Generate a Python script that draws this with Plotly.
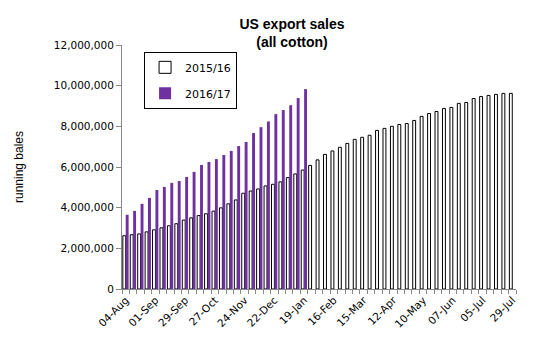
import plotly.graph_objects as go

weeks = ["04-Aug", "11-Aug", "18-Aug", "25-Aug", "01-Sep", "08-Sep", "15-Sep", "22-Sep",
         "29-Sep", "06-Oct", "13-Oct", "20-Oct", "27-Oct", "03-Nov", "10-Nov", "17-Nov",
         "24-Nov", "01-Dec", "08-Dec", "15-Dec", "22-Dec", "29-Dec", "05-Jan", "12-Jan",
         "19-Jan", "26-Jan", "02-Feb", "09-Feb", "16-Feb", "23-Feb", "01-Mar", "08-Mar",
         "15-Mar", "22-Mar", "29-Mar", "05-Apr", "12-Apr", "19-Apr", "26-Apr", "03-May",
         "10-May", "17-May", "24-May", "31-May", "07-Jun", "14-Jun", "21-Jun", "28-Jun",
         "05-Jul", "12-Jul", "19-Jul", "26-Jul", "29-Jul"]

shown_labels = ["04-Aug", "01-Sep", "29-Sep", "27-Oct", "24-Nov", "22-Dec", "19-Jan",
                "16-Feb", "15-Mar", "12-Apr", "10-May", "07-Jun", "05-Jul", "29-Jul"]

sales_2015_16 = [2620000, 2670000, 2710000, 2810000, 2910000, 3010000, 3110000, 3210000,
                 3390000, 3500000, 3610000, 3700000, 3830000, 3990000, 4190000, 4380000,
                 4710000, 4820000, 4920000, 5070000, 5150000, 5270000, 5480000, 5660000,
                 5850000, 6080000, 6350000, 6620000, 6790000, 6970000, 7160000, 7360000,
                 7460000, 7560000, 7800000, 7900000, 8000000, 8090000, 8140000, 8290000,
                 8490000, 8630000, 8730000, 8880000, 8930000, 9130000, 9170000, 9370000,
                 9470000, 9520000, 9570000, 9620000, 9620000]

sales_2016_17 = [3650000, 3840000, 4190000, 4480000, 4870000, 5020000, 5220000, 5310000,
                 5510000, 5760000, 6100000, 6250000, 6390000, 6590000, 6790000, 7030000,
                 7230000, 7670000, 7960000, 8240000, 8600000, 8800000, 9040000, 9390000,
                 9830000]

fig = go.Figure()
fig.add_trace(go.Bar(
    x=weeks, y=sales_2015_16, name="2015/16",
    marker=dict(color="white", line=dict(color="black", width=1)),
    legendgroup="a",
))
fig.add_trace(go.Bar(
    x=weeks[:len(sales_2016_17)], y=sales_2016_17, name="2016/17",
    marker=dict(color="#7030A0", line=dict(width=0)),
    legendgroup="b",
))

ticktext = [w if w in shown_labels and (i % 4 == 0 or i == len(weeks) - 1) else "" for i, w in enumerate(weeks)]

fig.update_layout(
    width=534, height=348,
    margin=dict(l=122, r=18, t=45, b=59),
    paper_bgcolor="white", plot_bgcolor="white",
    barmode="group", bargap=0.22, bargroupgap=0,
    font=dict(family="DejaVu Sans", size=10.5, color="black"),
    title=dict(text="<b>US export sales<br>(all cotton)</b>",
               x=(292 - 122) / 394, xref="paper", xanchor="center",
               y=1 - 29 / 348, yref="container", yanchor="top",
               font=dict(family="Liberation Sans", size=14, color="black")),
    showlegend=True,
    legend=dict(x=0.056, y=0.972, xanchor="left", yanchor="top",
                bordercolor="black", borderwidth=1, bgcolor="white",
                font=dict(family="DejaVu Sans", size=11),
                tracegroupgap=7, itemwidth=30, traceorder="grouped"),
    xaxis=dict(type="category", tickmode="array", tickvals=weeks, ticktext=ticktext,
               tickangle=-45, tickson="boundaries", ticks="outside", ticklen=4,
               tickcolor="#888888", showline=True, linecolor="#888888", linewidth=1,
               showgrid=False, tickfont=dict(family="DejaVu Sans", size=10.5)),
    yaxis=dict(range=[0, 12000000], dtick=2000000, tickformat=",", ticks="outside",
               ticklen=5, tickcolor="#888888", showline=True, linecolor="#888888",
               linewidth=1, showgrid=False, zeroline=False,
               title=dict(text="running bales", standoff=27,
                          font=dict(family="Liberation Sans", size=12))),
)

fig.write_html("out.html")
